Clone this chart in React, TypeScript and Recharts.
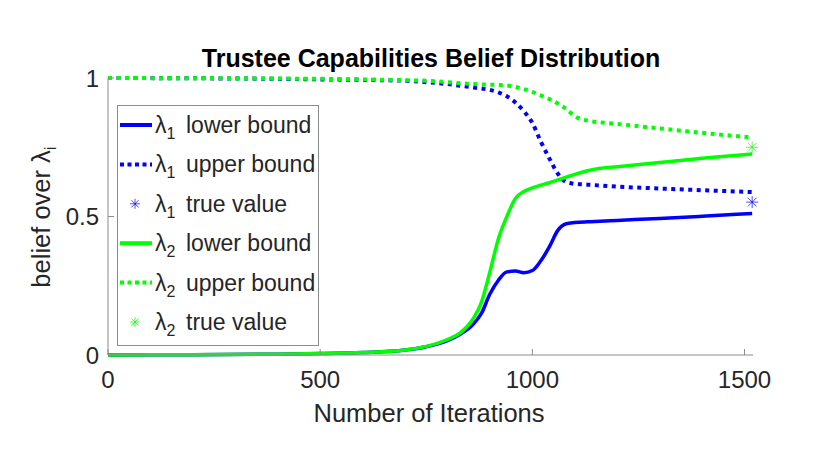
import { ComposedChart, Line, Scatter, XAxis, YAxis, Legend } from 'recharts';

const ITERATIONS = [0, 200, 400, 500, 600, 700, 750, 800, 830, 860, 880, 900, 920, 940, 960, 980, 1000, 1020, 1040, 1060, 1080, 1100, 1130, 1160, 1200, 1300, 1400, 1518];

const LAMBDA1_LOWER = [0, 0.001, 0.003, 0.005, 0.009, 0.018, 0.03, 0.052, 0.075, 0.11, 0.15, 0.22, 0.27, 0.3, 0.303, 0.297, 0.305, 0.34, 0.39, 0.45, 0.474, 0.478, 0.481, 0.483, 0.486, 0.493, 0.501, 0.511];
const LAMBDA1_UPPER = [1, 0.999, 0.997, 0.995, 0.993, 0.99, 0.985, 0.978, 0.972, 0.966, 0.962, 0.957, 0.948, 0.934, 0.912, 0.88, 0.838, 0.77, 0.71, 0.655, 0.624, 0.618, 0.615, 0.612, 0.608, 0.601, 0.595, 0.588];
const LAMBDA2_LOWER = [0, 0.001, 0.003, 0.005, 0.009, 0.018, 0.031, 0.056, 0.08, 0.13, 0.19, 0.3, 0.42, 0.5, 0.565, 0.59, 0.603, 0.613, 0.622, 0.632, 0.642, 0.652, 0.665, 0.674, 0.68, 0.695, 0.71, 0.726];
const LAMBDA2_UPPER = [1, 0.999, 0.998, 0.997, 0.995, 0.992, 0.99, 0.985, 0.981, 0.978, 0.977, 0.976, 0.975, 0.973, 0.968, 0.96, 0.95, 0.937, 0.924, 0.908, 0.888, 0.862, 0.846, 0.84, 0.834, 0.818, 0.802, 0.785];

const TRUE_ITER = 1518;
const LAMBDA1_TRUE = 0.552;
const LAMBDA2_TRUE = 0.75;

const X_TICKS = [0, 500, 1000, 1500];
const Y_TICKS = [0, 0.5, 1];

const BLUE = '#0000ff';
const GREEN = '#00ff00';
const FONT = '"Liberation Sans", Arial, Helvetica, sans-serif';
const AXIS = '#8c8c8c';
const TEXT = '#262626';

const rows = ITERATIONS.map((x, i) => ({
  x,
  l1lo: LAMBDA1_LOWER[i],
  l1hi: LAMBDA1_UPPER[i],
  l2lo: LAMBDA2_LOWER[i],
  l2hi: LAMBDA2_UPPER[i],
}));

const LEGEND_ITEMS = [
  { sub: '1', text: 'lower bound', color: BLUE, kind: 'solid' },
  { sub: '1', text: 'upper bound', color: BLUE, kind: 'dotted' },
  { sub: '1', text: 'true value', color: BLUE, kind: 'star' },
  { sub: '2', text: 'lower bound', color: GREEN, kind: 'solid' },
  { sub: '2', text: 'upper bound', color: GREEN, kind: 'dotted' },
  { sub: '2', text: 'true value', color: GREEN, kind: 'star' },
];

function Star({ cx, cy, color, r = 6 }: any) {
  const d = r * 0.72;
  return (
    <g stroke={color} strokeWidth={1} strokeOpacity={0.7}>
      <line x1={cx - r} y1={cy} x2={cx + r} y2={cy} />
      <line x1={cx} y1={cy - r} x2={cx} y2={cy + r} />
      <line x1={cx - d} y1={cy - d} x2={cx + d} y2={cy + d} />
      <line x1={cx - d} y1={cy + d} x2={cx + d} y2={cy - d} />
    </g>
  );
}

function LegendBox() {
  return (
    <svg width={202} height={241} style={{ display: 'block', background: '#fff' }}>
      <rect x={0.5} y={0.5} width={201} height={240} fill="#fff" stroke={AXIS} strokeWidth={1} />
      {LEGEND_ITEMS.map((it, i) => {
        const cy = 20 + i * 39.4;
        return (
          <g key={i}>
            {it.kind === 'solid' && <line x1={3} x2={35} y1={cy} y2={cy} stroke={it.color} strokeWidth={4} />}
            {it.kind === 'dotted' && (
              <line x1={3} x2={35} y1={cy} y2={cy} stroke={it.color} strokeWidth={4} strokeDasharray="4 3.5" />
            )}
            {it.kind === 'star' && <Star cx={18} cy={cy} color={it.color} r={5} />}
            <text x={38} y={cy + 8} fontFamily={FONT} fontSize={23} fill={TEXT}>
              λ<tspan fontSize={16} dy={6}>{it.sub}</tspan>
            </text>
            <text x={69} y={cy + 8} fontFamily={FONT} fontSize={23} fill={TEXT}>
              {it.text}
            </text>
          </g>
        );
      })}
    </svg>
  );
}

export default function App() {
  return (
    <div style={{ position: 'absolute', left: 0, top: 0, width: 830, height: 467, background: '#fff' }}>
      <ComposedChart width={830} height={467} data={rows} margin={{ top: 78, right: 77, bottom: 82, left: 78 }}>
        <XAxis
          dataKey="x"
          type="number"
          domain={[0, 1520]}
          ticks={X_TICKS}
          height={30}
          stroke={AXIS}
          tickSize={-6}
          tickMargin={22}
          tick={{ fill: TEXT, fontSize: 24, fontFamily: FONT }}
        />
        <YAxis
          type="number"
          domain={[0, 1]}
          ticks={Y_TICKS}
          width={30}
          stroke={AXIS}
          tickSize={-6}
          tickMargin={15}
          tick={{ fill: TEXT, fontSize: 24, fontFamily: FONT }}
        />
        <Line dataKey="l1lo" type="monotone" stroke={BLUE} strokeWidth={3.5} dot={false} isAnimationActive={false} />
        <Line dataKey="l1hi" type="monotone" stroke={BLUE} strokeWidth={4} strokeDasharray="4 4.5" dot={false} isAnimationActive={false} />
        <Line dataKey="l2lo" type="monotone" stroke={GREEN} strokeWidth={3.5} dot={false} isAnimationActive={false} />
        <Line dataKey="l2hi" type="monotone" stroke={GREEN} strokeWidth={4} strokeDasharray="4 4.5" dot={false} isAnimationActive={false} />
        <Scatter
          data={[{ x: TRUE_ITER, y: LAMBDA1_TRUE }]}
          dataKey="y"
          isAnimationActive={false}
          shape={(p: any) => <Star cx={p.cx} cy={p.cy} color={BLUE} />}
        />
        <Scatter
          data={[{ x: TRUE_ITER, y: LAMBDA2_TRUE }]}
          dataKey="y"
          isAnimationActive={false}
          shape={(p: any) => <Star cx={p.cx} cy={p.cy} color={GREEN} />}
        />
        <Legend
          layout="vertical"
          align="center"
          verticalAlign="middle"
          content={() => <LegendBox />}
          wrapperStyle={{ left: 117, top: 105, width: 202, height: 241 }}
        />
      </ComposedChart>
      <svg width={830} height={467} style={{ position: 'absolute', left: 0, top: 0, pointerEvents: 'none' }}>
        <text x={431} y={67} textAnchor="middle" fontFamily={FONT} fontSize={25} fontWeight="bold" fill="#000">
          Trustee Capabilities Belief Distribution
        </text>
        <text x={429} y={422} textAnchor="middle" fontFamily={FONT} fontSize={25.5} fill={TEXT}>
          Number of Iterations
        </text>
        <text transform="translate(50,217) rotate(-90)" textAnchor="middle" fontFamily={FONT} fontSize={25.5} fill={TEXT}>
          belief over λ<tspan fontSize={17} dy={6}>i</tspan>
        </text>
      </svg>
    </div>
  );
}
